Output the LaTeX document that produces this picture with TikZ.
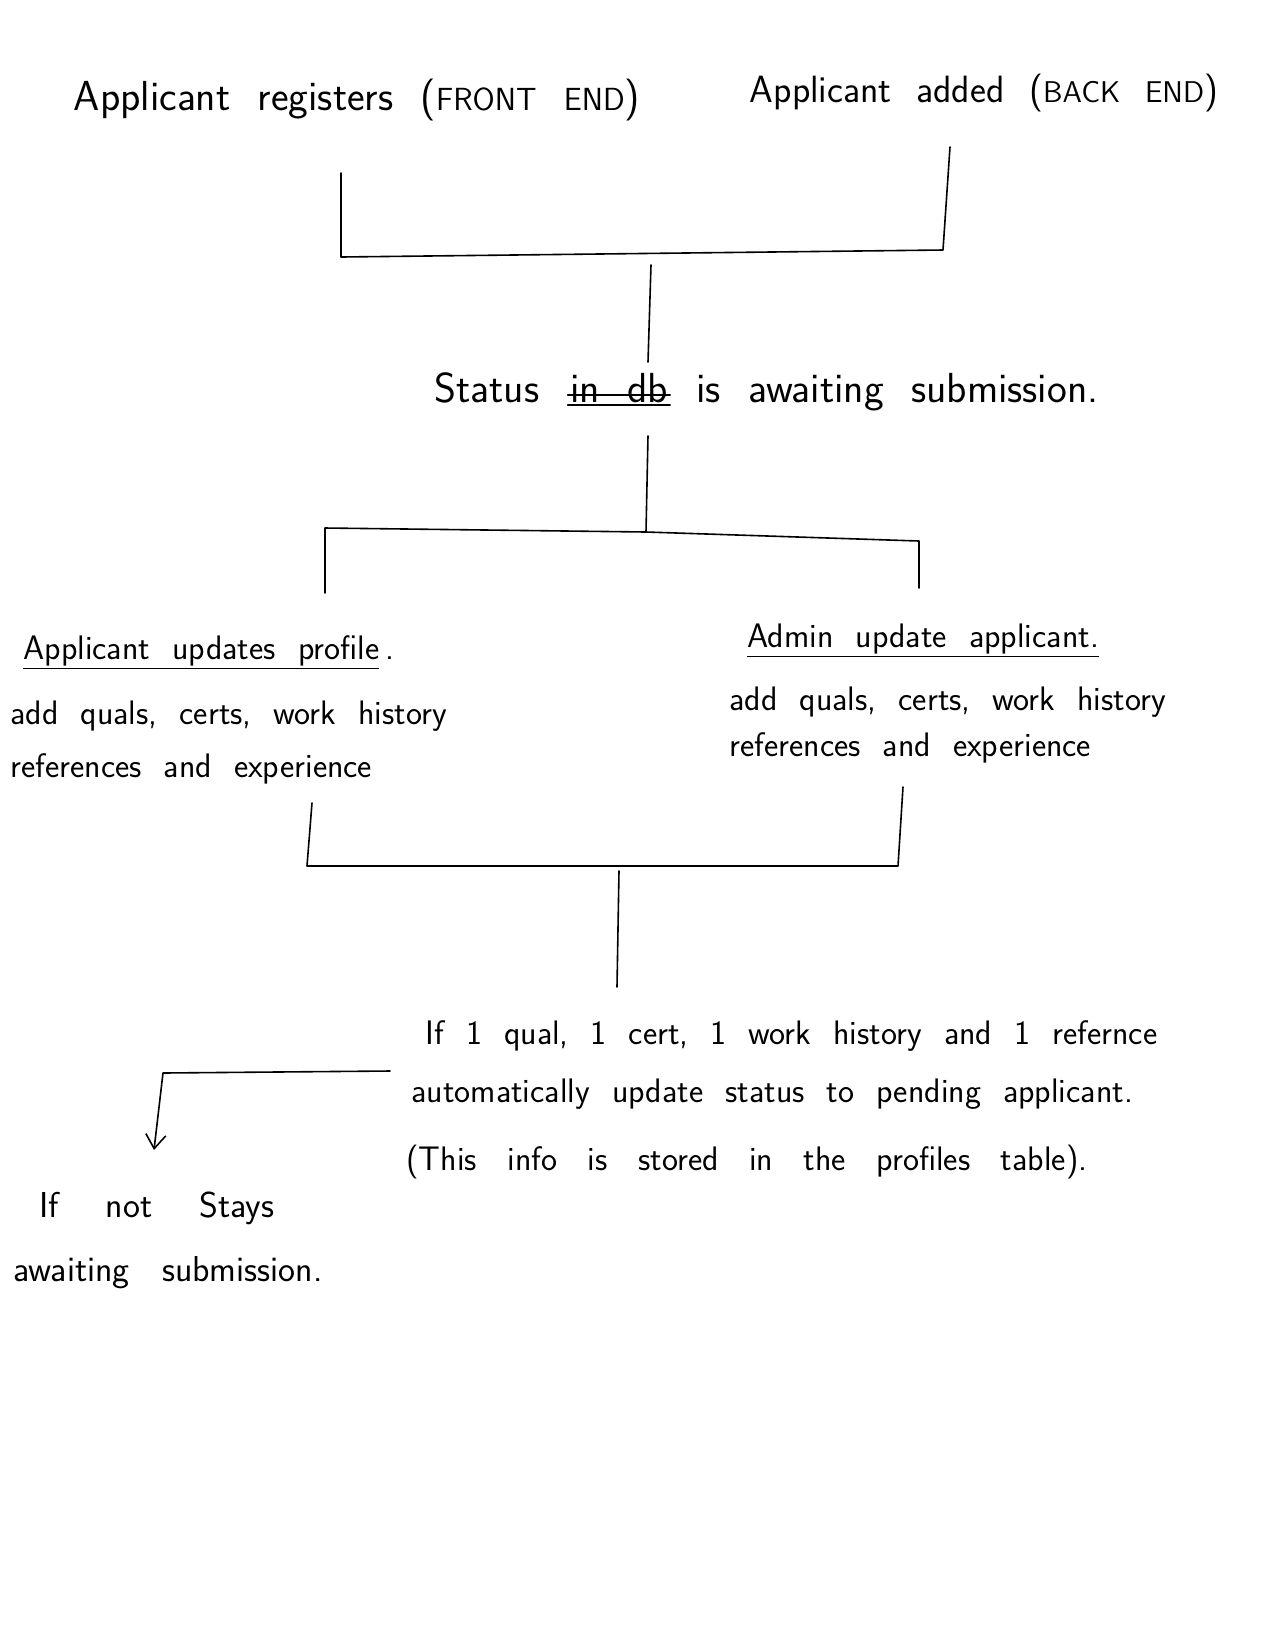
\documentclass[tikz,border=0pt]{standalone}
\usepackage{tikz}
\usetikzlibrary{arrows.meta,positioning}

\newcommand\loosesp{\spaceskip 0.65em\relax}
\newcommand\widesp{\spaceskip 0.9em\relax}
\newcommand\hugesp{\spaceskip 1.3em\relax}

\begin{document}
\begin{tikzpicture}[x=0.5pt, y=-0.5pt,
  hand/.style={font=\sffamily\fontsize{21}{24}\selectfont, execute at begin node=\loosesp, inner sep=1pt, text height=1.6ex, text depth=.4ex},
  note/.style={font=\sffamily\fontsize{17}{20}\selectfont, execute at begin node=\loosesp, inner sep=1pt, anchor=west, text height=1.6ex, text depth=.4ex},
  pen/.style={draw=black, line width=0.8pt, line join=round, line cap=round},
]
  \useasboundingbox (0,0) rectangle (1264,1646);
  \fill[white] (0,0) rectangle (1264,1646);

  % top row
  \node[hand] (reg) at (357,105) {Applicant registers ({\fontsize{16}{18}\selectfont FRONT END})};
  \node[hand, font=\sffamily\fontsize{19}{22}\selectfont] (add) at (984,97) {Applicant added ({\fontsize{15}{17}\selectfont BACK END})};

  % first join
  \coordinate (ja) at (341,173);
  \coordinate (jb) at (341,257);
  \coordinate (jc) at (943,250);
  \coordinate (jd) at (950,147);
  \coordinate (js) at (651,265);
  \coordinate (jt) at (648,362);
  \draw[pen] (ja) -- (jb) -- (jc) -- (jd);
  \draw[pen] (js) -- (jt);

  % status
  \node[hand, anchor=west] (st) at (432,397) {Status};
  \node[hand, right=13pt of st] (stx) {in db};
  \node[hand, right=12pt of stx] (sta) {is awaiting submission.};
  \draw[pen] ([yshift=1pt]stx.west) -- ([yshift=1pt]stx.east);
  \draw[pen] ([yshift=-4pt]stx.west) -- ([yshift=-4pt]stx.east);

  % split
  \coordinate (sa) at (648,436);
  \coordinate (sb) at (646,532);
  \coordinate (sc) at (325,593);
  \coordinate (sd) at (325,528);
  \coordinate (se) at (919,541);
  \coordinate (sf) at (919,588);
  \draw[pen] (sa) -- (sb);
  \draw[pen] (sc) -- (sd) -- (sb) -- (se) -- (sf);

  % applicant side
  \node[note, anchor=west] (upd) at (21,654) {\underline{Applicant updates profile}\,.};
  \node[note] (upd1) at (8,719) {add quals, certs, work history};
  \node[note] (upd2) at (8,772) {references and experience};

  % admin side
  \node[note, anchor=west] (adm) at (745,642) {\underline{Admin update applicant.}};
  \node[note] (adm1) at (727,705) {add quals, certs, work history};
  \node[note] (adm2) at (727,751) {references and experience};

  % second join
  \coordinate (ka) at (312,803);
  \coordinate (kb) at (307,866);
  \coordinate (kc) at (898,866);
  \coordinate (kd) at (903,787);
  \coordinate (ks) at (619,871);
  \coordinate (kt) at (617,987);
  \draw[pen] (ka) -- (kb) -- (kc) -- (kd);
  \draw[pen] (ks) -- (kt);

  % check
  \node[note] (chk1) at (423,1039) {If 1 qual, 1 cert, 1 work history and 1 refernce};
  \node[note] (chk2) at (409,1097) {automatically update status to pending applicant.};
  \node[note, execute at begin node=\widesp] (chk3) at (404,1165) {(This info is stored in the profiles table).};

  % otherwise
  \coordinate (na) at (390,1071);
  \coordinate (nb) at (163,1073);
  \coordinate (nc) at (154,1150);
  \draw[pen, -{Straight Barb[length=7pt, width=10pt]}] (na) -- (nb) -- (nc);
  \node[note, font=\sffamily\fontsize{18}{21}\selectfont, execute at begin node=\hugesp] (no1) at (37,1212) {If not Stays};
  \node[note, font=\sffamily\fontsize{18}{21}\selectfont, execute at begin node=\widesp] (no2) at (11,1276) {awaiting submission.};
\end{tikzpicture}
\end{document}
